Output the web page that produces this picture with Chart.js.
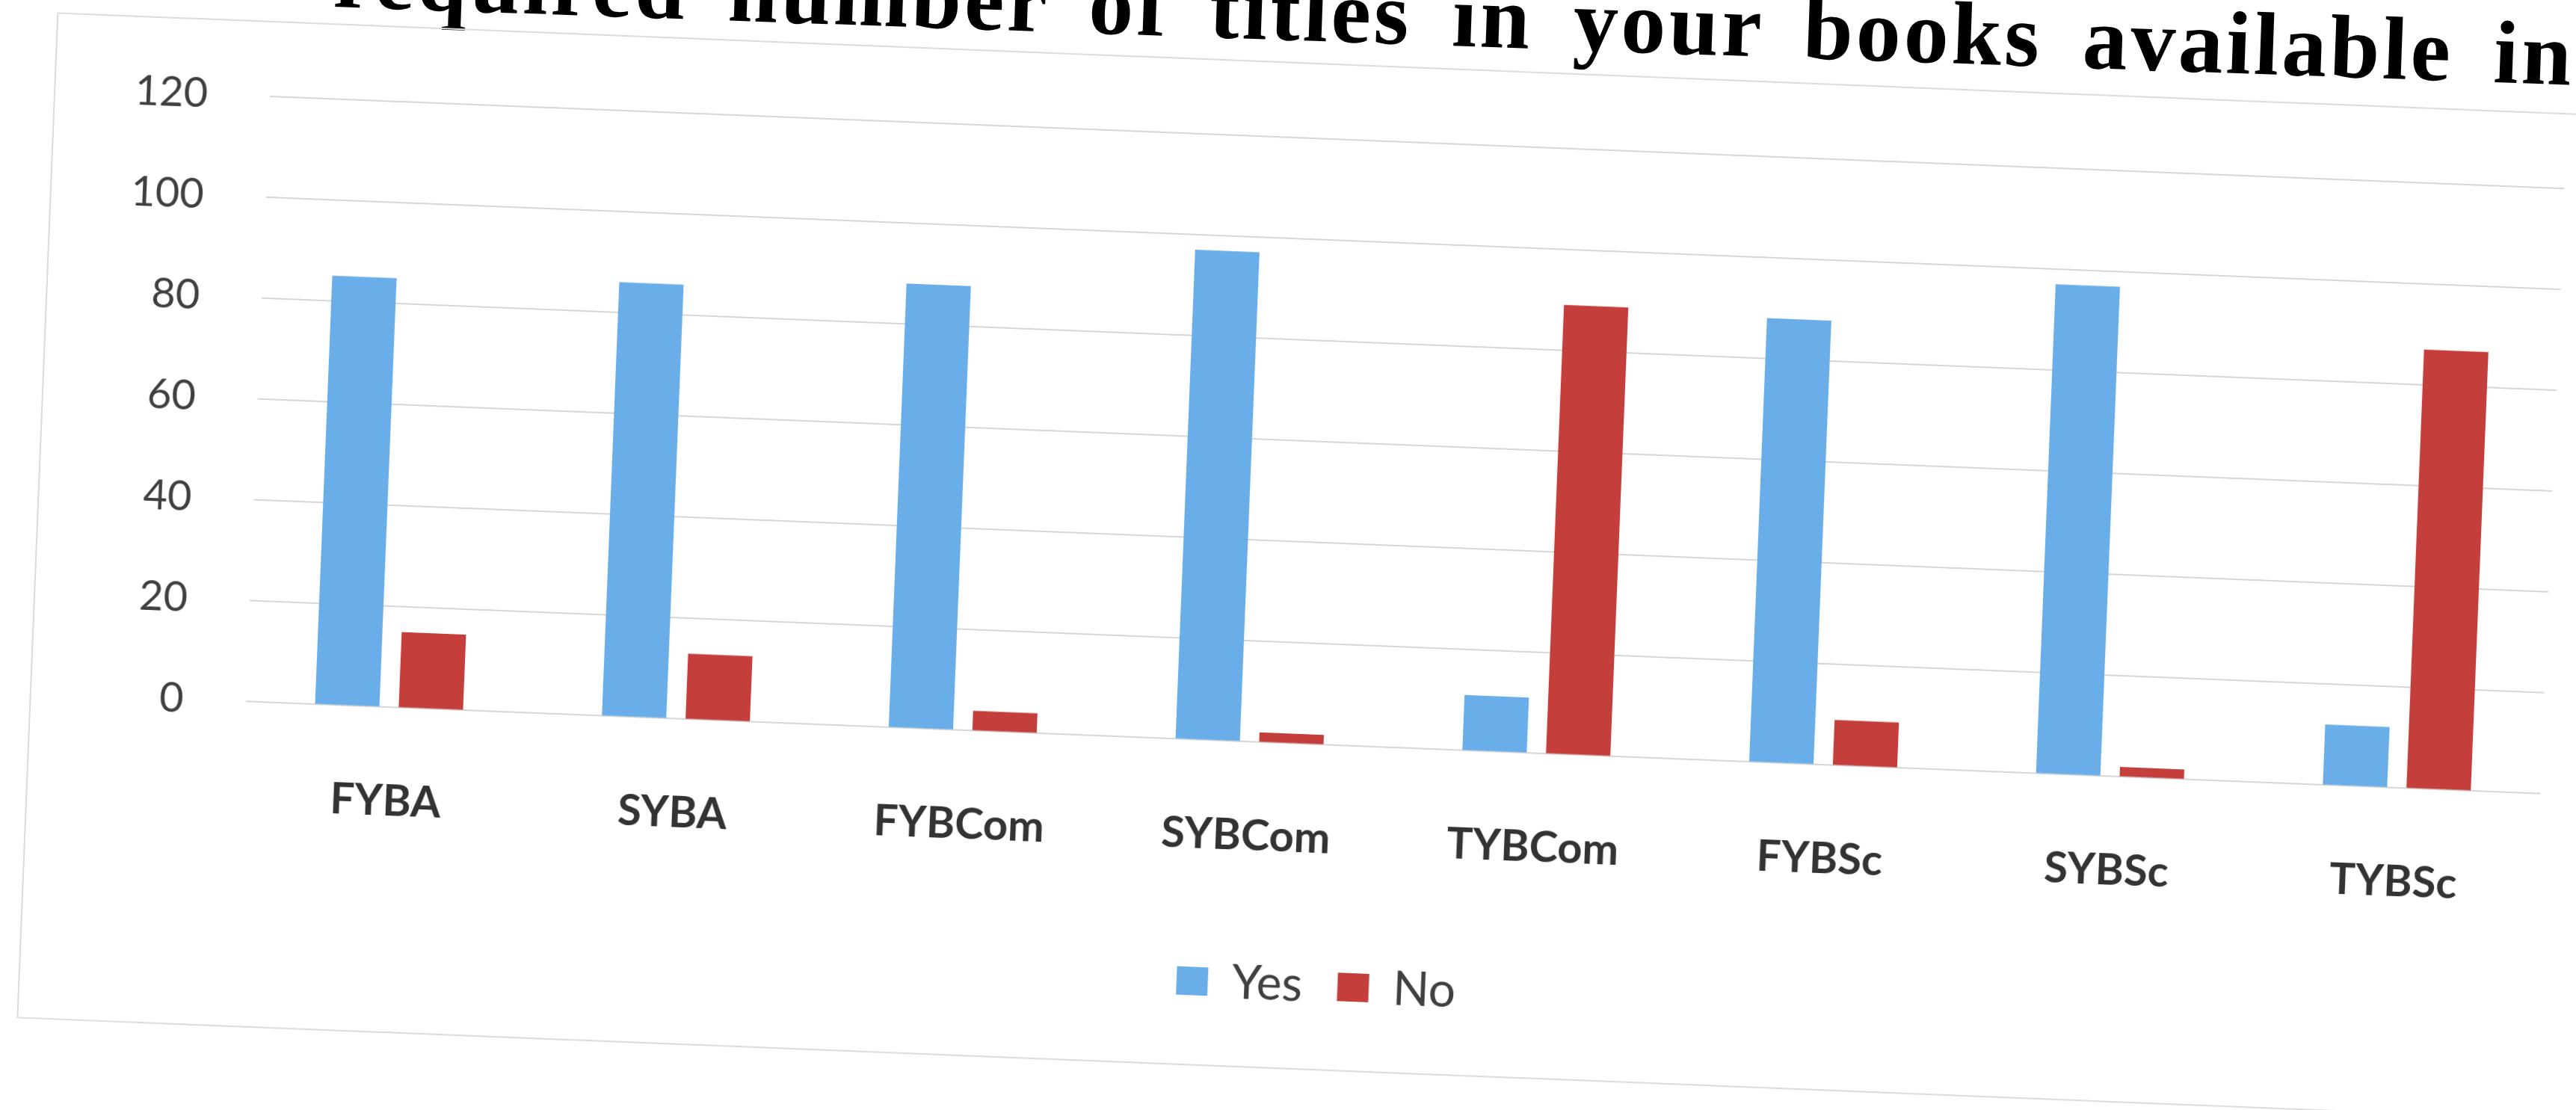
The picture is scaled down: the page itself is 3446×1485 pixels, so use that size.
<!DOCTYPE html>
<html>
<head>
<meta charset="utf-8">
<script src="https://cdn.jsdelivr.net/npm/chart.js@4.4.1/dist/chart.umd.min.js"></script>
<style>
  html, body { margin: 0; padding: 0; background: #fff; overflow: hidden; }
  body { width: 3446px; height: 1485px; position: relative; }
  /* caption printed above the chart, cut off by the top of the scan */
  #caption {
    position: absolute; left: 445px; top: -91px;
    font: bold 120px "Liberation Serif", "Times New Roman", serif;
    line-height: 120px; white-space: nowrap; color: #000;
    letter-spacing: 4px; word-spacing: 20px;
    transform-origin: 0 100px; transform: rotate(2deg);
  }
  /* the scanned chart is slightly tilted */
  #sheet {
    position: absolute; left: 0; top: -150px; width: 3446px; height: 1635px;
    transform-origin: 321px 1078px; transform: rotate(2.3deg);
  }
  #frame {
    position: absolute; left: 40px; top: 177px; width: 3600px; height: 1343px;
    border: 2px solid #dcdcdc;
  }
  #chart { position: absolute; left: 0; top: 0; }
</style>
</head>
<body>
<div id="caption">required number of titles in your books available in</div>
<div id="sheet">
  <div id="frame"></div>
  <canvas id="chart" width="3446" height="1635"></canvas>
</div>
<script>
const categories = ['FYBA', 'SYBA', 'FYBCom', 'SYBCom', 'TYBCom', 'FYBSc', 'SYBSc', 'TYBSc'];
const yesValues = [85, 86, 88, 97, 11, 88, 97, 12];
const noValues = [15, 13, 4, 2, 89, 9, 2, 87];
const yMin = 0;
const yMax = 120;
const yStep = 20;

const ctx = document.getElementById('chart').getContext('2d');
new Chart(ctx, {
  type: 'bar',
  data: {
    labels: categories,
    datasets: [
      {
        label: 'Yes',
        data: yesValues,
        backgroundColor: '#69aee9',
        categoryPercentage: 0.583,
        barPercentage: 0.77
      },
      {
        label: 'No',
        data: noValues,
        backgroundColor: '#c43f3b',
        categoryPercentage: 0.583,
        barPercentage: 0.77
      }
    ]
  },
  options: {
    responsive: false,
    animation: false,
    layout: {
      padding: { left: 149, right: 45, top: 278, bottom: 182 }
    },
    plugins: {
      title: { display: false },
      tooltip: { enabled: false },
      legend: {
        position: 'bottom',
        labels: {
          boxWidth: 42,
          boxHeight: 38,
          padding: 47,
          color: '#404040',
          font: { family: 'Lato', size: 64 }
        }
      }
    },
    scales: {
      x: {
        grid: { display: false },
        border: { display: false },
        ticks: {
          padding: 83,
          color: '#333',
          font: { family: 'Lato', size: 58, weight: 'bold' }
        }
      },
      y: {
        min: yMin,
        max: yMax,
        afterFit: scale => { scale.width = 180; },
        grid: { color: '#d6d6d6', lineWidth: 2, drawTicks: false },
        border: { display: false },
        ticks: {
          stepSize: yStep,
          padding: 83,
          color: '#404040',
          font: { family: 'Lato', size: 56 }
        }
      }
    }
  }
});
</script>
</body>
</html>
